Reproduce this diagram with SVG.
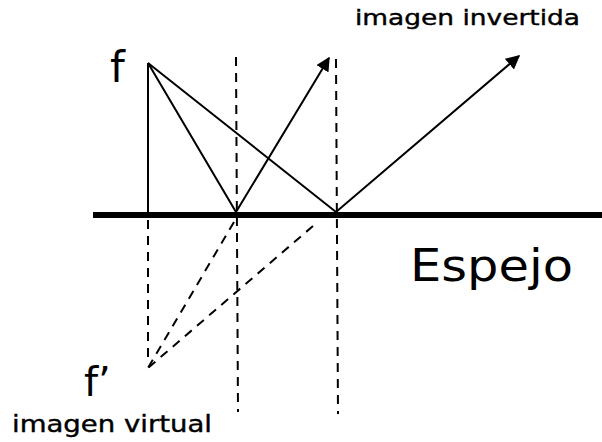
<svg xmlns="http://www.w3.org/2000/svg" width="602" height="442" viewBox="0 0 602 442">
<style>
.t{font-family:"DejaVu Sans","Noto Sans",sans-serif;fill:#000}
.ray{stroke:#000;stroke-width:2;fill:none}
.dash{stroke:#000;stroke-width:2;fill:none;stroke-dasharray:9,7}
</style>
<defs>
<marker id="ah" viewBox="0 0 10 10" refX="9" refY="5" markerWidth="7" markerHeight="7" orient="auto" markerUnits="strokeWidth">
<path d="M0,0 L10,5 L0,10 z" fill="#000"/>
</marker>
</defs>
<rect width="602" height="442" fill="#fff"/>
<g id="mirror">
<line x1="93" y1="215" x2="602" y2="215" stroke="#000" stroke-width="6"/>
<text class="t" x="410" y="281" font-size="44" textLength="163" lengthAdjust="spacingAndGlyphs">Espejo</text>
</g>
<g id="object">
<line class="ray" x1="148" y1="63" x2="148" y2="213"/>
<text class="t" x="110" y="82" font-size="42">f</text>
</g>
<g id="virtual">
<text class="t" x="84" y="396" font-size="40">f’</text>
<text class="t" x="12" y="432" font-size="23" textLength="200" lengthAdjust="spacingAndGlyphs" stroke="#000" stroke-width="0.4">imagen virtual</text>
</g>
<g id="label-invertida">
<text class="t" x="355" y="25" font-size="22" textLength="225" lengthAdjust="spacingAndGlyphs" stroke="#000" stroke-width="0.4">imagen invertida</text>
</g>
<g id="connectors">
<line class="dash" x1="236" y1="57" x2="238" y2="412"/>
<line class="dash" x1="336" y1="59" x2="338" y2="414"/>
<line class="dash" x1="148" y1="220" x2="148" y2="362"/>
<line class="dash" x1="234" y1="222" x2="148" y2="368"/>
<line class="dash" x1="313" y1="226" x2="148" y2="368"/>
<polyline class="ray" points="148,63 236,212 329,58" marker-end="url(#ah)"/>
<polyline class="ray" points="148,63 336,212 519,56" marker-end="url(#ah)"/>
</g>
</svg>
